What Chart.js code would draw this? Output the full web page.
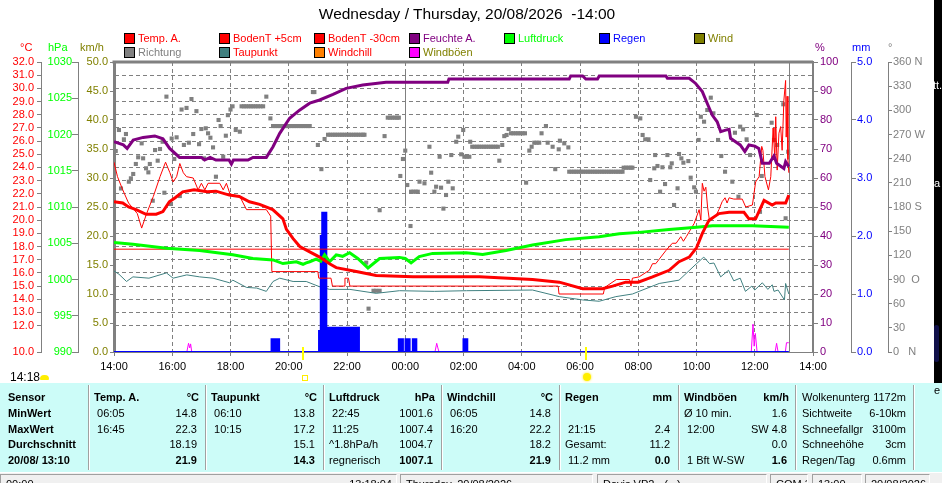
<!DOCTYPE html>
<html>
<head>
<meta charset="utf-8">
<title>Wetter 20/08/2026</title>
<script src="https://cdn.jsdelivr.net/npm/chart.js@4/dist/chart.umd.min.js"></script>
<style>
  body { margin: 0; background: #fff; font-family: "Liberation Sans", Arial, sans-serif; }
  #page { position: relative; width: 942px; height: 483px; overflow: hidden; }
  #page div { position: absolute; white-space: pre; }
  #chart { position: absolute; left: 0; top: 0; }
  .title { left: 0; width: 934px; top: 5px; text-align: center; font-size: 15.5px; line-height: 18px; }
  .leg { font-size: 11px; line-height: 13px; }
  .box { width: 9px; height: 9px; border: 1px solid #000; }
  .unit { font-size: 11px; line-height: 13px; }
  #table { left: 0; top: 383px; width: 942px; height: 89px; background: #ccfcf8; }
  .cell { font-size: 11px; line-height: 14px; color: #000; }
  .b { font-weight: bold; }
  .sep { top: 2px; height: 85px; width: 1px; background: #a0a0a0; border-right: 1px solid #fff; }
  #status { left: 0; top: 473px; width: 942px; height: 10px; background: #f0f0f0; overflow: hidden; }
  .sbox { top: 1px; height: 12px; border-top: 1px solid #a0a0a0; border-left: 1px solid #a0a0a0;
          border-right: 1px solid #fff; font-size: 11px; line-height: 12px; overflow: hidden; }
</style>
</head>
<body>
<div id="page">
  <canvas id="chart" width="942" height="383"></canvas>
</div>
<script>
// all times are hours after 14:00 Wednesday
const nowHour = 23.17;        // 13:10, last reading
const sunTimes = [6.5, 16.2]; // sunset, sunrise
const midnightMark = [10, 48.3, 25.7]; // hour, km/h top, km/h bottom

const tempTicks = [10, 12, 13, 14, 15, 16, 17, 18, 19, 20, 21, 22, 23, 24, 25, 26, 27, 28, 29, 30, 31, 32];
const dirTickLabels = { 0: "0   N", 90: "90  O", 180: "180 S", 270: "270 W", 360: "360 N" };

// Temp. A. (°C)
const tempA = [
  [0, 21.4], [0.3, 21.3], [0.5, 21.0], [0.76, 20.8], [1.1, 20.45], [1.45, 20.45], [1.68, 20.65],
  [1.9, 21.4], [2.1, 21.7], [2.36, 22.15], [2.75, 22.3], [3.2, 22.15], [3.5, 22.2], [3.96, 21.9],
  [4.3, 21.8], [4.65, 21.4], [5.0, 21.2], [5.45, 20.8], [5.8, 20.1], [5.92, 19.3], [6.15, 18.6],
  [6.38, 18.0], [6.72, 17.6], [7.06, 17.2], [7.4, 16.7], [7.63, 16.4], [8.32, 16.1], [9.0, 15.8],
  [10.26, 15.7], [12.55, 15.7], [14.37, 15.5], [15.29, 15.3], [16.09, 14.8], [16.77, 14.8],
  [17.12, 15.0], [17.57, 15.3], [18.0, 15.3], [18.49, 15.7], [19.06, 16.2], [19.4, 16.85],
  [19.75, 17.2], [20.0, 17.9], [20.2, 19.0], [20.43, 20.0], [20.77, 20.5], [21.12, 20.6],
  [21.63, 20.6], [21.8, 20.1], [22.03, 20.1], [22.32, 21.5], [22.6, 21.15], [22.72, 21.3],
  [23.06, 21.3], [23.17, 21.9],
];

// BodenT +5cm (°C)
const bodenT5 = [
  [0, 24.4], [0.12, 23.3], [0.3, 22.3], [0.5, 21.3], [0.8, 20.5], [0.95, 19.4], [1.12, 20.5],
  [1.35, 21.8], [1.58, 23.3], [1.77, 24.4], [1.92, 23.6], [2.03, 22.9], [2.15, 23.3], [2.26, 24.3],
  [2.38, 23.6], [2.49, 23.3], [2.72, 23.2], [2.89, 22.3], [3.0, 22.8], [3.12, 22.3], [3.23, 22.8],
  [3.63, 22.8], [3.75, 22.3], [3.86, 22.8], [3.98, 22.0], [4.32, 21.8], [4.55, 20.8], [5.23, 20.8],
  [5.38, 20.3], [5.42, 16.1], [7.0, 16.1], [7.03, 15.6], [7.45, 15.6], [7.5, 15.0], [7.9, 15.0],
  [7.93, 15.6], [8.05, 15.6], [8.1, 15.0], [15.25, 15.0], [15.28, 14.4], [16.8, 14.4], [16.85, 14.9],
  [17.25, 15.5], [17.7, 15.5], [17.75, 15.0], [17.8, 15.6], [18.03, 15.7], [18.38, 16.2],
  [18.49, 16.7], [18.6, 16.7], [18.95, 17.7], [19.17, 18.25], [19.3, 18.25], [19.46, 18.75],
  [19.55, 18.4], [19.65, 18.75], [19.92, 19.75], [20.09, 20.8], [20.15, 20.0], [20.2, 22.8],
  [20.26, 22.2], [20.32, 22.5], [20.38, 21.0], [20.45, 19.9], [20.66, 20.3], [20.77, 20.8],
  [20.88, 21.4], [20.98, 21.7], [21.05, 21.3], [21.12, 21.7], [21.28, 21.6], [21.57, 21.6],
  [21.69, 21.0], [21.92, 21.15], [22.03, 22.9], [22.15, 23.3], [22.24, 25.6], [22.28, 25.3],
  [22.35, 23.3], [22.47, 22.3], [22.55, 23.3], [22.63, 27.0], [22.66, 25.9], [22.69, 24.6],
  [22.72, 27.85], [22.77, 23.8], [22.83, 26.6], [22.89, 27.1], [22.94, 25.3], [23.0, 29.1],
  [23.06, 30.6], [23.08, 26.3], [23.11, 29.4], [23.14, 24.6], [23.17, 23.6],
];

// BodenT -30cm (°C)
const bodenT30 = [[0, 17.8], [23.17, 17.8]];

// Taupunkt (°C)
const taupunkt = [
  [0, 16.15], [0.17, 15.9], [0.43, 15.35], [0.65, 15.7], [1.2, 15.6], [1.8, 16.0], [2.03, 15.6],
  [2.5, 15.85], [2.94, 15.7], [3.4, 15.6], [3.97, 15.25], [4.08, 15.45], [4.55, 14.9], [4.9, 14.85],
  [5.23, 14.6], [5.46, 15.35], [5.69, 15.6], [6.15, 15.35], [6.6, 15.35], [7.06, 14.95], [7.4, 14.75],
  [8.1, 14.75], [9.0, 14.45], [9.8, 14.65], [11.0, 14.6], [12.1, 14.65], [14.37, 14.7], [15.29, 14.2],
  [16.09, 13.95], [16.66, 13.85], [17.23, 14.2], [17.8, 14.4], [18.03, 14.6], [18.72, 15.2],
  [19.4, 15.45], [20.0, 16.7], [20.25, 17.2], [20.45, 16.7], [20.6, 16.75], [20.83, 15.7],
  [21.1, 16.2], [21.28, 15.4], [21.5, 15.6], [21.68, 14.6], [21.9, 15.0], [22.0, 14.7],
  [22.26, 15.25], [22.45, 14.75], [22.6, 15.1], [22.66, 14.6], [22.8, 14.7], [23.02, 13.95],
  [23.06, 15.2], [23.17, 14.4],
];

// Luftdruck (hPa)
const luftdruck = [
  [0, 1005.1], [0.65, 1004.85], [1.8, 1004.3], [2.94, 1004.0], [4.08, 1003.4], [4.77, 1002.9],
  [5.46, 1002.7], [5.8, 1002.2], [6.26, 1002.45], [6.49, 1002.1], [6.6, 1002.3], [6.72, 1002.45],
  [6.94, 1002.8], [7.1, 1002.5], [7.23, 1003.4], [7.4, 1002.45], [7.63, 1003.4], [7.85, 1003.2],
  [8.09, 1003.7], [8.37, 1002.9], [8.72, 1001.6], [9.12, 1002.9], [9.8, 1003.05], [10.0, 1002.9],
  [10.2, 1002.3], [10.48, 1003.15], [10.94, 1003.6], [12.09, 1003.7], [12.66, 1003.45],
  [13.46, 1004.0], [14.37, 1004.75], [15.51, 1005.5], [16.66, 1005.9], [17.35, 1006.3],
  [18.03, 1006.5], [19.06, 1006.9], [20.0, 1007.2], [20.55, 1007.4], [21.92, 1007.4], [23.17, 1007.2],
];

// Feuchte A. (%)
const feuchte = [
  [0, 72.5], [0.32, 71.4], [0.45, 70.2], [0.66, 73.1], [1.0, 74.0], [1.4, 74.5], [1.68, 73.5],
  [1.91, 70.2], [2.25, 67.1], [3.0, 67.1], [3.11, 66.2], [3.3, 67.1], [3.5, 66.2], [3.95, 66.2],
  [4.03, 64.8], [4.1, 66.2], [4.6, 66.2], [4.77, 67.1], [5.23, 67.1], [5.46, 70.8], [5.69, 75.4],
  [6.03, 80.6], [6.37, 83.4], [6.72, 85.8], [7.06, 86.9], [7.52, 88.8], [7.97, 90.9], [8.54, 92.1],
  [9.34, 93.0], [11.46, 93.0], [11.5, 94.1], [15.63, 94.1], [15.68, 95.2], [16.09, 95.2],
  [16.2, 94.1], [16.6, 94.1], [16.66, 95.2], [18.95, 95.2], [19.0, 94.4], [19.75, 94.4],
  [19.97, 92.6], [20.2, 89.8], [20.37, 85.7], [20.54, 81.7], [20.71, 79.4], [20.83, 76.0],
  [21.0, 76.5], [21.12, 76.8], [21.17, 73.7], [21.34, 72.5], [21.5, 71.4], [21.66, 69.1],
  [21.8, 71.4], [22.0, 71.0], [22.14, 70.2], [22.26, 65.1], [22.5, 65.1], [22.66, 67.6],
  [22.75, 65.1], [23.0, 63.3], [23.06, 65.6], [23.17, 63.9],
];

// Regen (mm), value holds until the next entry
const regen = [
  [0, 0], [5.41, 0.22], [5.67, 0], [7.04, 0.36], [7.1, 2.0], [7.15, 2.4], [7.29, 0.42], [7.75, 0.36],
  [7.8, 0.42], [8.14, 0], [8.2, 0.42], [8.41, 0], [9.78, 0.22], [9.92, 0], [10.01, 0.22], [10.15, 0],
  [10.26, 0.22], [10.38, 0], [12.0, 0.22], [12.13, 0], [23.17, 0],
];

// Windböen and Wind (km/h)
const windboeen = [
  [0, 0], [2.5, 0], [2.56, 1.5], [2.6, 0.7], [2.63, 1.4], [2.67, 0], [11.02, 0], [11.08, 1.5],
  [11.12, 0.7], [11.16, 0], [21.88, 0], [21.94, 4.8], [21.98, 1.0], [22.02, 3.2], [22.08, 0],
  [22.7, 0], [22.75, 1.5], [22.8, 0], [23.05, 0], [23.09, 1.6], [23.17, 1.6],
];
const wind = [[0, 0], [23.17, 0]];

// Richtung (degrees)
const richtung = [
  [0.06, 249.5], [0.17, 275.6], [0.24, 203], [0.34, 264], [0.41, 270.6], [0.51, 211.4], [0.58, 215.6],
  [0.66, 221], [0.75, 233.4], [0.83, 241.7], [0.95, 259], [1.0, 240.4], [1.1, 228], [1.18, 223],
  [1.23, 233.4], [1.33, 187.8], [1.41, 250.7], [1.5, 237.5], [1.58, 252], [1.67, 261], [1.73, 197.7],
  [1.8, 317], [1.92, 183.7], [1.98, 265], [2.07, 239.6], [2.15, 266.5], [2.26, 193.6], [2.32, 301],
  [2.4, 257], [2.49, 303], [2.57, 259.8], [2.66, 314], [2.72, 270.6], [2.83, 299], [2.92, 258],
  [3.0, 276.8], [3.09, 240.4], [3.15, 277.7], [3.23, 271.5], [3.31, 266], [3.4, 254], [3.5, 217.6],
  [3.59, 288], [3.66, 280.5], [3.75, 242.4], [3.84, 268.5], [3.91, 294], [4.0, 301], [4.07, 305],
  [4.18, 275.6], [4.32, 273.5],
  [4.38, 305], [4.46, 305], [4.54, 305], [4.62, 305], [4.7, 305], [4.78, 305], [4.86, 305],
  [4.94, 305], [5.03, 305], [5.12, 305],
  [5.23, 317], [5.37, 290],
  [5.46, 280.5], [5.54, 280.5], [5.62, 280.5], [5.7, 280.5], [5.78, 280.5], [5.86, 280.5],
  [5.94, 280.5], [6.02, 280.5], [6.1, 280.5], [6.18, 280.5], [6.26, 280.5], [6.34, 280.5],
  [6.42, 280.5], [6.5, 280.5], [6.58, 280.5], [6.66, 280.5], [6.72, 280.5],
  [6.83, 322.7], [6.88, 322.7], [7.0, 257], [7.12, 227], [7.23, 264.4],
  [7.35, 269.7], [7.43, 269.7], [7.51, 269.7], [7.59, 269.7], [7.67, 269.7], [7.75, 269.7],
  [7.83, 269.7], [7.91, 269.7], [7.99, 269.7], [8.07, 269.7], [8.15, 269.7], [8.23, 269.7],
  [8.31, 269.7], [8.39, 269.7], [8.47, 269.7], [8.55, 269.7], [8.6, 269.7],
  [8.66, 110.9], [8.74, 53.8], [8.91, 76], [9.0, 76], [9.12, 76], [9.12, 176], [9.29, 268],
  [9.4, 290.9], [9.48, 290.9], [9.56, 290.9], [9.64, 290.9], [9.72, 290.9], [9.78, 290.9],
  [9.83, 218.5], [9.92, 239.6], [10.0, 250], [10.07, 207.3], [10.18, 156.4],
  [10.2, 199], [10.28, 199], [10.36, 199], [10.43, 199],
  [10.49, 211.4], [10.66, 209.4], [10.83, 254.8], [10.89, 222.6], [11.0, 199], [11.06, 205.2],
  [11.18, 242.4], [11.23, 204], [11.31, 178], [11.4, 194.9], [11.48, 211.4], [11.58, 244.5],
  [11.63, 203.2], [11.75, 261], [11.82, 267.3], [11.92, 245.4], [11.99, 275.6],
  [12.03, 242.4], [12.11, 242.4], [12.2, 242.4], [12.23, 261],
  [12.3, 254.8], [12.38, 254.8], [12.46, 254.8], [12.54, 254.8], [12.62, 254.8], [12.7, 254.8],
  [12.78, 254.8], [12.86, 254.8], [12.94, 254.8], [13.02, 254.8], [13.1, 254.8], [13.18, 254.8],
  [13.23, 237.5], [13.33, 257], [13.4, 268], [13.48, 269.4], [13.55, 276.8],
  [13.63, 271.5], [13.71, 271.5], [13.79, 271.5], [13.87, 271.5], [13.95, 271.5], [14.03, 271.5],
  [14.11, 271.5], [14.15, 210.2], [14.26, 250], [14.34, 254.8],
  [14.43, 259.8], [14.51, 259.8], [14.6, 259.8],
  [14.68, 271.5], [14.83, 280.5], [14.89, 259.8], [15.06, 254.8], [15.15, 227], [15.27, 251.6],
  [15.31, 262.3], [15.46, 259], [15.6, 254],
  [15.63, 223.8], [15.71, 223.8], [15.79, 223.8], [15.87, 223.8], [15.95, 223.8], [16.03, 223.8],
  [16.11, 223.8], [16.19, 223.8], [16.27, 223.8], [16.35, 223.8], [16.43, 223.8], [16.51, 223.8],
  [16.59, 223.8], [16.67, 223.8], [16.75, 223.8], [16.83, 223.8], [16.91, 223.8], [16.99, 223.8],
  [17.07, 223.8], [17.15, 223.8], [17.23, 223.8], [17.31, 223.8], [17.39, 223.8], [17.46, 223.8],
  [17.5, 228.8], [17.58, 228.8], [17.66, 228.8], [17.74, 228.8], [17.8, 228.8],
  [17.92, 292], [18.07, 290], [18.15, 269.4], [18.24, 264], [18.35, 264], [18.41, 213.5],
  [18.55, 228], [18.58, 244.5], [18.66, 230.9], [18.75, 199], [18.83, 229.3], [18.92, 208.5],
  [19.0, 244.5], [19.1, 229.3], [19.15, 234.2], [19.23, 182.5], [19.35, 203.2], [19.4, 245.8],
  [19.48, 240.4], [19.55, 235], [19.72, 237], [19.8, 216.4], [19.92, 204.4], [19.98, 199],
  [20.07, 263.2], [20.15, 292], [20.26, 285.9], [20.37, 300.4], [20.49, 315.7], [20.58, 296.3],
  [20.74, 263.2], [20.85, 243.3], [20.98, 223.8], [21.23, 211.4], [21.32, 272.2], [21.44, 192.8],
  [21.5, 279.7], [21.6, 276.4], [21.72, 264], [21.84, 244.5], [22.07, 294.2], [22.18, 174],
  [22.24, 218.5], [22.58, 284.6], [22.66, 263.2], [22.77, 257], [22.98, 307.5], [23.06, 166],
  [23.15, 248.6],
];

const legendItems = [
  ["Temp. A.", "#ff0000", "#ff0000"], ["BodenT +5cm", "#ff0000", "#ff0000"],
  ["BodenT -30cm", "#ff0000", "#ff0000"], ["Feuchte A.", "#800080", "#800080"],
  ["Luftdruck", "#00ff00", "#00ff00"], ["Regen", "#0000ff", "#0000ff"], ["Wind", "#808000", "#808000"],
  ["Richtung", "#808080", "#808080"], ["Taupunkt", "#408080", "#ff0000"],
  ["Windchill", "#ff8000", "#ff0000"], ["Windböen", "#ff00ff", "#808000"],
];

const tableSeps = [88, 205, 323, 441, 559, 678, 795, 913];
const rowLabels = ["Sensor", "MinWert", "MaxWert", "Durchschnitt", "20/08/ 13:10"];
const sensorCols = [
  ["Temp. A.", "°C", [[" 06:05", "14.8"], [" 16:45", "22.3"], ["", "18.19"], ["", "21.9"]]],
  ["Taupunkt", "°C", [[" 06:10", "13.8"], [" 10:15", "17.2"], ["", "15.1"], ["", "14.3"]]],
  ["Luftdruck", "hPa", [[" 22:45", "1001.6"], [" 11:25", "1007.4"], ["^1.8hPa/h", "1004.7"], ["regnerisch", "1007.1"]]],
  ["Windchill", "°C", [[" 06:05", "14.8"], [" 16:20", "22.2"], ["", "18.2"], ["", "21.9"]]],
  ["Regen", "mm", [["", ""], [" 21:15", "2.4"], ["Gesamt:", "11.2"], [" 11.2 mm", "0.0"]]],
  ["Windböen", "km/h", [["Ø 10 min.", "1.6"], [" 12:00", "SW 4.8"], ["", "0.0"], [" 1 Bft W-SW", "1.6"]]],
];
const extraRows = [
  ["Wolkenunterg", "1172m"], ["Sichtweite", "6-10km"], ["Schneefallgr", "3100m"],
  ["Schneehöhe", "3cm"], ["Regen/Tag", "0.6mm"],
];
const statusBoxes = [
  [0, 397, "00:00", "13:18:04"], [400, 593, "Thursday, 20/08/2026", ""],
  [597, 767, "Davis VP2 - (...)", ""], [770, 808, "COM 3", ""], [812, 862, "13:00", ""],
  [865, 930, "20/08/2026", ""],
];

// ---- page furniture ----
const page = document.getElementById("page");
function put(parent, text, css, cls) {
  const d = document.createElement("div");
  d.textContent = text;
  if (cls) d.className = cls;
  Object.assign(d.style, css);
  parent.appendChild(d);
  return d;
}

put(page, "Wednesday / Thursday, 20/08/2026  -14:00", {}, "title");

legendItems.forEach(([label, box, txt], i) => {
  const col = i < 7 ? i : i - 7;
  const top = i < 7 ? 33 : 47;
  const x = 124 + col * 95;
  put(page, "", { left: x + "px", top: top + "px", background: box }, "box");
  put(page, label, { left: x + 14 + "px", top: top - 1 + "px", color: txt }, "leg");
});

[["°C", 20, "#ff0000"], ["hPa", 48, "#00ff00"], ["km/h", 80, "#808000"],
 ["%", 815, "#800080"], ["mm", 852, "#0000ff"], ["°", 888, "#808080"]].forEach(([t, x, c]) => {
  put(page, t, { left: x + "px", top: "41px", color: c }, "unit");
});

// right-hand black window edge
put(page, "", { left: "934px", top: "0px", width: "8px", height: "383px", background: "#000" });
put(page, "tt.", { left: "933px", top: "79px", color: "#fff", fontSize: "11px", width: "9px", overflow: "hidden" });
put(page, "a", { left: "934px", top: "177px", color: "#fff", fontSize: "11px" });
put(page, "", { left: "934px", top: "325px", width: "5px", height: "37px", background: "#10104a", borderRadius: "3px" });

// time row
put(page, "14:18", { left: "10px", top: "370px", fontSize: "12px" });
put(page, "", { left: "40px", top: "375px", width: "9px", height: "5px", background: "#ffee00", borderRadius: "4px 4px 1px 1px" });
put(page, "", { left: "302px", top: "375px", width: "4px", height: "4px", border: "1px solid #ffee00" });
put(page, "", { left: "583px", top: "373px", width: "8px", height: "8px", background: "#ffee00", borderRadius: "50%", boxShadow: "0 0 2px 1px #fff59a" });

// table
const table = put(page, "", {});
table.id = "table";
tableSeps.forEach(x => put(table, "", { left: x + "px" }, "sep"));
const rowTops = [7, 23, 39, 54, 70];
rowLabels.forEach((t, r) => put(table, t, { left: "8px", top: rowTops[r] + "px" }, "cell b"));
sensorCols.forEach(([head, unit, rows], c) => {
  const s = tableSeps[c], n = tableSeps[c + 1];
  put(table, head, { left: s + 6 + "px", top: rowTops[0] + "px" }, "cell b");
  put(table, unit, { right: 942 - (n - 6) + "px", top: rowTops[0] + "px" }, "cell b");
  rows.forEach(([l, v], r) => {
    const last = r === 3 ? " b" : "";
    put(table, l, { left: s + 6 + "px", top: rowTops[r + 1] + "px" }, "cell");
    put(table, v, { right: 942 - (n - 8) + "px", top: rowTops[r + 1] + "px" }, "cell" + last);
  });
});
extraRows.forEach(([l, v], r) => {
  put(table, l, { left: "802px", top: rowTops[r] + "px" }, "cell");
  put(table, v, { right: 942 - 906 + "px", top: rowTops[r] + "px" }, "cell");
});
put(page, "e", { left: "934px", top: "384px", fontSize: "11px" });

// status bar
const status = put(page, "", {});
status.id = "status";
statusBoxes.forEach(([a, b, l, r]) => {
  const box = put(status, "", { left: a + "px", width: b - a - 2 + "px" }, "sbox");
  put(box, l, { left: "5px", top: "3px" });
  if (r) put(box, r, { right: "4px", top: "3px" });
});

// ---- chart ----
const GRAY = "#808080";
Chart.defaults.font.family = '"Liberation Sans", Arial, sans-serif';
Chart.defaults.font.size = 11;

const xy = arr => arr.map(([x, y]) => ({ x, y }));
function series(label, data, color, width, axis, order, extra) {
  return Object.assign({
    type: "line", label, data: xy(data), borderColor: color, backgroundColor: color,
    borderWidth: width, pointRadius: 0, yAxisID: axis, order, tension: 0, fill: false,
  }, extra || {});
}

function yAxis(position, weight, width, min, max, step, color, tickLen, pad, fmt, extra) {
  return Object.assign({
    type: "linear", position, weight, min, max,
    ticks: { stepSize: step, color, padding: pad, autoSkip: false, callback: fmt },
    grid: { drawOnChartArea: false, color: GRAY, tickLength: tickLen },
    border: { color: GRAY, width: 1 },
    afterFit: s => { s.width = width; },
  }, extra || {});
}

const markers = {
  id: "markers",
  beforeDatasetsDraw(chart) {
    const { ctx, chartArea: a, scales } = chart;
    ctx.save();
    ctx.strokeStyle = GRAY;
    ctx.lineWidth = 1;
    const xn = Math.round(scales.x.getPixelForValue(nowHour)) + 0.5;
    ctx.beginPath(); ctx.moveTo(xn, a.top); ctx.lineTo(xn, a.bottom); ctx.stroke();
    const xm = Math.round(scales.x.getPixelForValue(midnightMark[0])) + 0.5;
    ctx.beginPath();
    ctx.moveTo(xm, scales.yK.getPixelForValue(midnightMark[1]));
    ctx.lineTo(xm, scales.yK.getPixelForValue(midnightMark[2]));
    ctx.stroke();
    ctx.restore();
  },
  afterDatasetsDraw(chart) {
    const { ctx, chartArea: a, scales } = chart;
    ctx.save();
    ctx.strokeStyle = GRAY;
    ctx.lineWidth = 3;
    ctx.beginPath(); ctx.moveTo(a.left - 1.5, a.top); ctx.lineTo(a.right, a.top); ctx.stroke();
    ctx.strokeStyle = "#ffff00";
    ctx.lineWidth = 2;
    for (const h of sunTimes) {
      const x = Math.round(scales.x.getPixelForValue(h));
      ctx.beginPath(); ctx.moveTo(x, a.bottom - 5); ctx.lineTo(x, a.bottom + 8); ctx.stroke();
    }
    ctx.restore();
  },
};

new Chart(document.getElementById("chart"), {
  type: "line",
  data: {
    datasets: [
      series("Temp. A.", tempA, "#ff0000", 3, "yT", 0),
      series("Feuchte A.", feuchte, "#800080", 3, "yP", 1),
      series("Luftdruck", luftdruck, "#00ff00", 3, "yH", 2),
      series("BodenT +5cm", bodenT5, "#ff0000", 1, "yT", 3),
      series("BodenT -30cm", bodenT30, "#ff0000", 1, "yT", 4),
      // windchill equals the air temperature at these low wind speeds
      series("Windchill", tempA, "#ff8000", 1, "yT", 5),
      series("Regen", regen, "#0000ff", 2, "yR", 6, { stepped: true, fill: "origin" }),
      series("Taupunkt", taupunkt, "#408080", 1, "yT", 7),
      series("Windböen", windboeen, "#ff00ff", 1, "yK", 8),
      series("Wind", wind, "#808000", 1, "yK", 9),
      {
        type: "scatter", label: "Richtung", data: xy(richtung), yAxisID: "yD", order: 10,
        showLine: false, pointStyle: "rect", pointRadius: 2.9, borderWidth: 0,
        backgroundColor: GRAY, borderColor: GRAY,
      },
    ],
  },
  options: {
    responsive: false,
    animation: false,
    events: [],
    layout: { padding: { top: 62, left: 0, right: 8, bottom: 6 } },
    plugins: { legend: { display: false }, tooltip: { enabled: false }, title: { display: false } },
    scales: {
      x: {
        type: "linear", position: "bottom", min: 0, max: 24,
        ticks: {
          stepSize: 2, color: "#000", padding: 4, autoSkip: false, maxRotation: 0,
          callback: v => String((14 + v) % 24).padStart(2, "0") + ":00",
        },
        grid: { color: GRAY, tickLength: 4 },
        border: { color: GRAY, dash: [4, 3] },
        afterFit: s => { s.height = 25; },
      },
      yK: yAxis("left", 0, 36, 0, 50, 5, "#808000", 4, 2, v => v.toFixed(1), {
        border: { color: GRAY, width: 3 },
      }),
      yH: yAxis("left", 1, 37, 990, 1030, 5, "#00ff00", 6, 0, v => String(v)),
      yT: yAxis("left", 2, 41, 10, 32, 1, "#ff0000", 4, 3, v => v.toFixed(1), {
        afterBuildTicks: s => { s.ticks = tempTicks.map(value => ({ value })); },
        grid: { drawOnChartArea: true, color: GRAY, tickLength: 4 },
        border: { color: GRAY, width: 1, dash: [4, 3] },
      }),
      yP: yAxis("right", 0, 38, 0, 100, 10, "#800080", 5, 2, v => String(v), {
        border: { color: GRAY, width: 2 },
      }),
      yR: yAxis("right", 1, 37, 0, 5, 1, "#0000ff", 5, 1, v => v.toFixed(1)),
      yD: yAxis("right", 2, 46, 0, 360, 30, GRAY, 4, 1, v => dirTickLabels[v] ?? String(v)),
    },
  },
  plugins: [markers],
});
</script>
</body>
</html>
